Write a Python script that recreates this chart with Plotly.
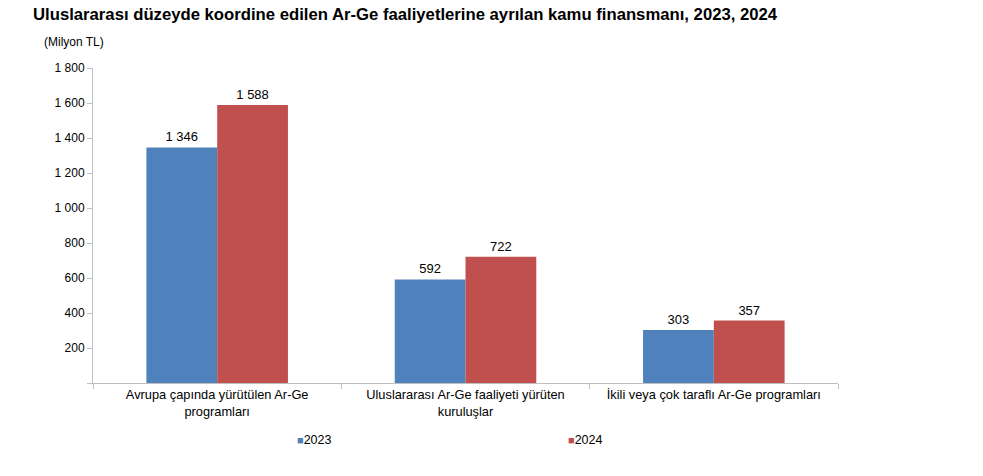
import plotly.graph_objects as go

categories = ["Avrupa çapında yürütülen Ar-Ge<br>programları",
              "Uluslararası Ar-Ge faaliyeti yürüten<br>kuruluşlar",
              "İkili veya çok taraflı Ar-Ge programları"]
values_2023 = [1346, 592, 303]
values_2024 = [1588, 722, 357]
series_names = ["2023", "2024"]
series_colors = ["#4F81BD", "#C0504D"]
y_ticks = [0, 200, 400, 600, 800, 1000, 1200, 1400, 1600, 1800]
y_tick_text = ["", "200", "400", "600", "800", "1 000", "1 200", "1 400", "1 600", "1 800"]

font = "Liberation Sans, Arial, sans-serif"
fig = go.Figure()
for name, vals, color in zip(series_names, [values_2023, values_2024], series_colors):
    fig.add_trace(go.Bar(
        x=categories, y=vals, name=name, marker_color=color,
        marker_line_width=0,
        texttemplate="%{y:,}", textposition="outside",
        textfont=dict(size=13, color="#000000", family=font),
        cliponaxis=False,
    ))

# legend drawn as text entries "■2023" "■2024"
legend_x_px = [295, 566]
annotations = [dict(text="(Milyon TL)", xref="paper", yref="paper",
                    x=-51/745, xanchor="left", y=1 + 26/315, yanchor="middle",
                    showarrow=False, font=dict(size=12, family=font))]
for name, color, xp in zip(series_names, series_colors, legend_x_px):
    annotations.append(dict(
        text=f"<span style='color:{color};font-size:11px'>■</span>{name}",
        xref="paper", yref="paper", x=(xp - 93) / 745, xanchor="left",
        y=-(440 - 383) / 315, yanchor="middle", showarrow=False,
        font=dict(size=12.5, family=font, color="#000000")))

fig.update_layout(
    width=983, height=476,
    margin=dict(l=93, r=145, t=68, b=93, autoexpand=False),
    paper_bgcolor="white", plot_bgcolor="white",
    separators=", ",
    barmode="group", bargap=0.43, bargroupgap=0,
    font=dict(family=font, size=12, color="#000000"),
    showlegend=False,
    title=dict(text="<b>Uluslararası düzeyde koordine edilen Ar-Ge faaliyetlerine ayrılan kamu finansmanı, 2023, 2024</b>",
               x=33/983, xanchor="left", y=1 - 14/476, yanchor="middle",
               font=dict(size=16.7, family=font, color="#000000")),
    annotations=annotations,
)
fig.update_yaxes(range=[0, 1800], tickvals=y_ticks, ticktext=y_tick_text,
                 showgrid=False, zeroline=False,
                 showline=True, linecolor="#BFBFBF", linewidth=1,
                 ticks="outside", ticklen=5, tickcolor="#BFBFBF",
                 tickfont=dict(size=12))
fig.update_xaxes(showgrid=False, showline=True, linecolor="#BFBFBF", linewidth=1,
                 ticks="outside", ticklen=5, tickcolor="#BFBFBF",
                 tickson="boundaries", tickfont=dict(size=12.8))

fig.write_html("out.html")
